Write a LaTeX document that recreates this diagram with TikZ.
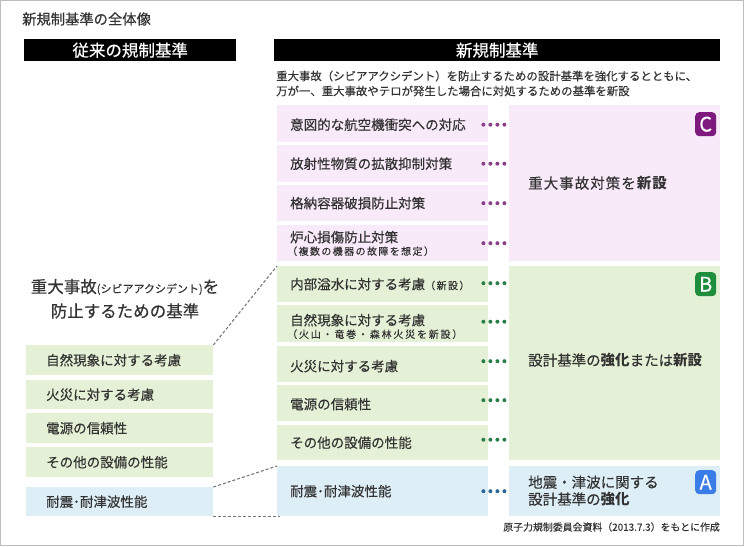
\documentclass[tikz,border=0pt]{standalone}
\usepackage{fontspec}
\setmainfont{Noto Sans CJK JP}[FakeBold=0.35, BoldFeatures={FakeBold=0}]
\definecolor{pinkF}{HTML}{F8EAF8}
\definecolor{greenF}{HTML}{E5F1D6}
\definecolor{blueF}{HTML}{DEEEF6}
\definecolor{badgeC}{HTML}{7E1A7E}
\definecolor{badgeB}{HTML}{1E8E3C}
\definecolor{badgeA}{HTML}{3B7DE8}
\definecolor{dotC}{HTML}{8A3F86}
\definecolor{dotB}{HTML}{2A7E48}
\definecolor{dotA}{HTML}{2A6698}
\definecolor{txtc}{HTML}{333333}
\definecolor{bordc}{HTML}{BDBDBD}
\definecolor{dashc}{HTML}{777777}
\tikzset{
  rowbox/.style={draw=none, inner sep=0, anchor=north west, minimum width=211pt},
  bigbox/.style={draw=none, inner sep=0, anchor=north west, minimum width=211pt},
  lbox/.style={draw=none, inner sep=0, anchor=north west, minimum width=187pt},
  rtxt/.style={inner sep=0, anchor=west, text=txtc, font=\fontsize{13.5pt}{16pt}\selectfont},
  subtxt/.style={inner sep=0, anchor=west, text=txtc, font=\fontsize{10pt}{12pt}\selectfont\addfontfeature{LetterSpace=18}},
  bigtxt/.style={inner sep=0, anchor=west, text=txtc, font=\fontsize{14.5pt}{17pt}\selectfont},
  hdr/.style={fill=black, text=white, inner sep=0, anchor=north west, minimum height=22pt, font=\fontsize{16.5pt}{18pt}\selectfont},
  badge/.style={rounded corners=4pt, inner sep=0, minimum width=21pt, minimum height=24pt, anchor=north west, text=white, font=\fontsize{20pt}{20pt}\selectfont},
  dots/.style={line width=4pt, line cap=round, dash pattern=on 0pt off 7pt},
  dashlink/.style={draw=dashc, line width=1.1pt, dash pattern=on 3pt off 2pt},
}
\begin{document}
\begin{tikzpicture}[x=1pt,y=-1pt]
\useasboundingbox (0,0) rectangle (744,546);
\draw[bordc, line width=1pt] (0.5,0.5) rectangle (743.5,545.5);

\node[inner sep=0, anchor=west, text=txtc, font=\fontsize{14.3pt}{16pt}\selectfont] (title) at (22,19) {新規制基準の全体像};

\node[hdr, minimum width=212pt] (hL) at (24,39) {従来の規制基準};
\node[hdr, minimum width=446pt] (hR) at (274,39) {新規制基準};

\node[inner sep=0, anchor=west, text=txtc, font=\fontsize{11.4pt}{13pt}\selectfont] (d1) at (276,76) {重大事故（シビアアクシデント）を防止するための設計基準を強化するとともに、};
\node[inner sep=0, anchor=west, text=txtc, font=\fontsize{11.4pt}{13pt}\selectfont] (d2) at (276,91) {万が一、重大事故やテロが発生した場合に対処するための基準を新設};

% C group
\node[rowbox, fill=pinkF, minimum height=37pt] (p1) at (277,105) {};
\node[rowbox, fill=pinkF, minimum height=37pt] (p2) at (277,145) {};
\node[rowbox, fill=pinkF, minimum height=36pt] (p3) at (277,185) {};
\node[rowbox, fill=pinkF, minimum height=36pt] (p4) at (277,225) {};
\node[bigbox, fill=pinkF, minimum height=156pt] (C) at (509,105) {};
\node[rtxt] (p1t) at ([xshift=13pt, yshift=-1pt]p1.west) {意図的な航空機衝突への対応};
\node[rtxt] (p2t) at ([xshift=13pt]p2.west) {放射性物質の拡散抑制対策};
\node[rtxt] (p3t) at ([xshift=13pt]p3.west) {格納容器破損防止対策};
\node[rtxt] (p4t) at ([xshift=13pt, yshift=6pt]p4.west) {炉心損傷防止対策};
\node[subtxt, font=\fontsize{10pt}{12pt}\selectfont\addfontfeature{LetterSpace=14}] (p4s) at ([xshift=10pt, yshift=-8pt]p4.west) {（複数の機器の故障を想定）};
\node[bigtxt, font=\fontsize{14.5pt}{17pt}\selectfont\addfontfeature{LetterSpace=7}] (Ct) at ([xshift=19pt]C.west) {重大事故対策を\textbf{新設}};
\node[badge, fill=badgeC] (bC) at (695,112) {C};

% B group
\node[rowbox, fill=greenF, minimum height=36pt] (g1) at (277,266) {};
\node[rowbox, fill=greenF, minimum height=37pt] (g2) at (277,305) {};
\node[rowbox, fill=greenF, minimum height=36pt] (g3) at (277,346) {};
\node[rowbox, fill=greenF, minimum height=36pt] (g4) at (277,385) {};
\node[rowbox, fill=greenF, minimum height=35pt] (g5) at (277,425) {};
\node[bigbox, fill=greenF, minimum height=194pt] (B) at (509,266) {};
\node[rtxt] (g1t) at ([xshift=13pt]g1.west) {内部溢水に対する考慮{\fontsize{10pt}{12pt}\selectfont\addfontfeature{LetterSpace=14}（新設）}};
\node[rtxt] (g2t) at ([xshift=13pt, yshift=3.5pt]g2.west) {自然現象に対する考慮};
\node[subtxt] (g2s) at ([xshift=10pt, yshift=-10.5pt]g2.west) {（火山・竜巻・森林火災を新設）};
\node[rtxt] (g3t) at ([xshift=13pt, yshift=-2pt]g3.west) {火災に対する考慮};
\node[rtxt] (g4t) at ([xshift=13pt, yshift=-1pt]g4.west) {電源の信頼性};
\node[rtxt] (g5t) at ([xshift=13pt]g5.west) {その他の設備の性能};
\node[bigtxt] (Bt) at ([xshift=19pt, yshift=3pt]B.west) {設計基準の\textbf{強化}または\textbf{新設}};
\node[badge, fill=badgeB] (bB) at (695,272) {B};

% A group
\node[rowbox, fill=blueF, minimum height=50pt] (a1) at (277,466) {};
\node[bigbox, fill=blueF, minimum height=50pt] (A) at (509,466) {};
\node[rtxt] (a1t) at ([xshift=13pt]a1.west) {耐震･耐津波性能};
\node[bigtxt] (At1) at ([xshift=19pt, yshift=9pt]A.west) {地震・津波に関する};
\node[bigtxt] (At2) at ([xshift=19pt, yshift=-8pt]A.west) {設計基準の\textbf{強化}};
\node[badge, fill=badgeA] (bA) at (695,470) {A};

% dotted links
\foreach \r/\s in {p1/-1pt,p2/0pt,p3/0pt,p4/0pt}
  \draw[dots, dotC] ([xshift=-5pt, yshift=\s]\r.east) -- ([xshift=-4.5pt, yshift=\s]\r.east -| C.west);
\foreach \r/\s in {g1/1pt,g2/2pt,g3/3pt,g4/3pt,g5/3pt}
  \draw[dots, dotB] ([xshift=-5pt, yshift=\s]\r.east) -- ([xshift=-4.5pt, yshift=\s]\r.east -| B.west);
\draw[dots, dotA] ([xshift=-5pt]a1.east) -- ([xshift=-4.5pt]a1.east -| A.west);

% left column
\node[inner sep=0, text=txtc, font=\fontsize{16.5pt}{18pt}\selectfont] (lh1) at (125,287) {重大事故{\fontsize{11pt}{12pt}\selectfont(シビアアクシデント)}を};
\node[inner sep=0, text=txtc, font=\fontsize{16.5pt}{18pt}\selectfont] (lh2) at (125,311) {防止するための基準};

\node[lbox, fill=greenF, minimum height=30pt] (l1) at (26,345) {};
\node[lbox, fill=greenF, minimum height=29pt] (l2) at (26,380) {};
\node[lbox, fill=greenF, minimum height=30pt] (l3) at (26,413) {};
\node[lbox, fill=greenF, minimum height=30pt] (l4) at (26,447) {};
\node[lbox, fill=blueF, minimum height=29pt] (l5) at (26,487) {};
\node[rtxt] (l1t) at ([xshift=20pt]l1.west) {自然現象に対する考慮};
\node[rtxt] (l2t) at ([xshift=20pt]l2.west) {火災に対する考慮};
\node[rtxt] (l3t) at ([xshift=20pt]l3.west) {電源の信頼性};
\node[rtxt] (l4t) at ([xshift=20pt]l4.west) {その他の設備の性能};
\node[rtxt] (l5t) at ([xshift=20pt]l5.west) {耐震･耐津波性能};

\draw[dashlink] (l1.north east) -- (g1.north west);
\draw[dashlink] (l5.north east) -- (a1.north west);
\draw[dashlink] (l5.south east) -- ([xshift=3pt]a1.south west);

\node[inner sep=0, anchor=east, text=txtc, font=\fontsize{9.9pt}{11pt}\selectfont] (foot) at (720,527) {原子力規制委員会資料（2013.7.3）をもとに作成};
\end{tikzpicture}
\end{document}
